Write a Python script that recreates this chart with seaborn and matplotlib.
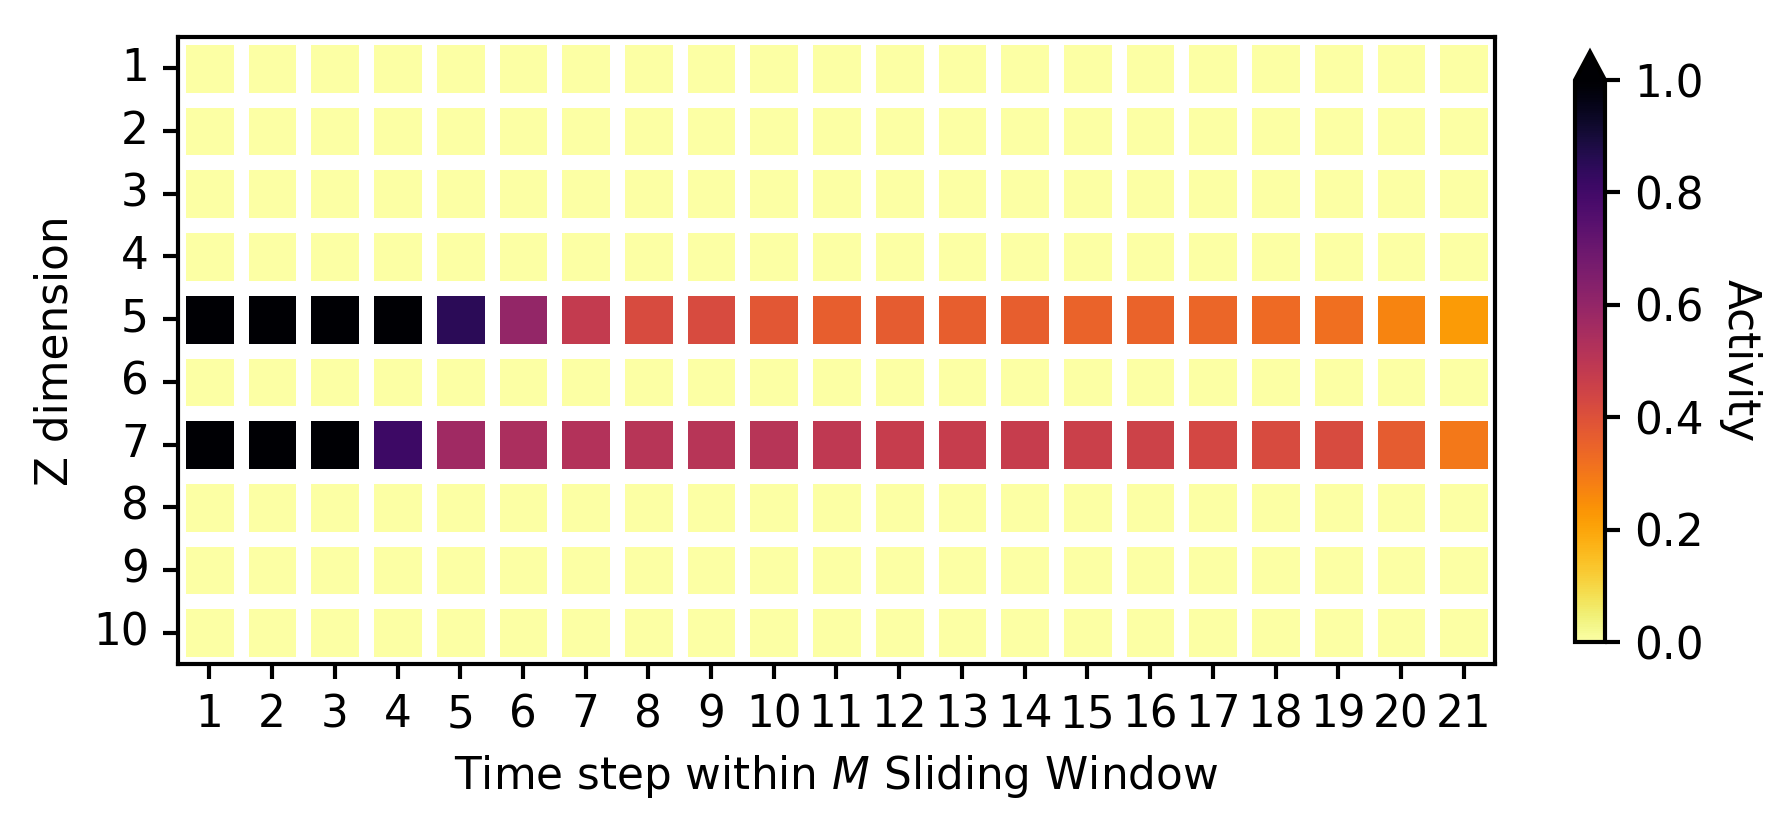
import numpy as np
import pandas as pd
import matplotlib
matplotlib.use("Agg")
import matplotlib.pyplot as plt
import seaborn as sns

# axis categories
z_dims = list(range(1, 11))
time_steps = list(range(1, 22))

# only z=5 and z=7 are active, everything else is zero
active_rows = [5, 7]
activity_z5 = [1.0, 1.0, 1.0, 1.0, 0.85, 0.60, 0.48, 0.42, 0.42, 0.38, 0.36,
               0.37, 0.36, 0.36, 0.35, 0.35, 0.34, 0.33, 0.32, 0.27, 0.22]
activity_z7 = [1.0, 1.0, 1.0, 0.81, 0.57, 0.54, 0.52, 0.51, 0.51, 0.51, 0.49,
               0.47, 0.47, 0.47, 0.46, 0.45, 0.43, 0.42, 0.42, 0.37, 0.30]
cbar_ticks = [0.0, 0.2, 0.4, 0.6, 0.8, 1.0]


def build_grid():
    grid = pd.DataFrame(0.0, index=z_dims, columns=time_steps)
    grid.loc[active_rows[0]] = activity_z5
    grid.loc[active_rows[1]] = activity_z7
    return grid


def plot_heatmap(grid):
    plt.rcParams['font.size'] = 10.5
    W, H = 1786, 817
    fig = plt.figure(figsize=(W / 300, H / 300), dpi=300)
    ax = fig.add_axes([178 / W, 1 - 664 / H, (1495 - 178) / W, (664 - 37) / H])
    cax = fig.add_axes([1575 / W, 1 - 642 / H, 30 / W, (642 - 52) / H])

    sns.heatmap(grid, ax=ax, cbar_ax=cax, cmap="inferno_r", vmin=0, vmax=1,
                linewidths=3.5, linecolor="white",
                cbar_kws={"extend": "max", "ticks": cbar_ticks})

    for s in ax.spines.values():
        s.set_visible(True)
        s.set_color("black")
        s.set_linewidth(1.0)
    ax.tick_params(axis="both", length=3.5, width=1.0, color="black")
    ax.set_yticklabels(z_dims, rotation=0)
    ax.set_xticklabels(time_steps, rotation=0)
    ax.set_xlabel("Time step within $M$ Sliding Window")
    ax.set_ylabel("Z dimension")

    cb = ax.collections[0].colorbar
    cb.outline.set_visible(True)
    cb.outline.set_linewidth(1.0)
    cb.outline.set_edgecolor("black")
    cb.ax.tick_params(length=3.5, width=1.0)
    cb.ax.set_yticklabels([f"{t:.1f}" for t in cbar_ticks])
    cb.set_label("Activity", rotation=270, labelpad=14)

    fig.savefig("out.png", dpi=300)


def main():
    grid = build_grid()
    plot_heatmap(grid)


if __name__ == "__main__":
    main()
